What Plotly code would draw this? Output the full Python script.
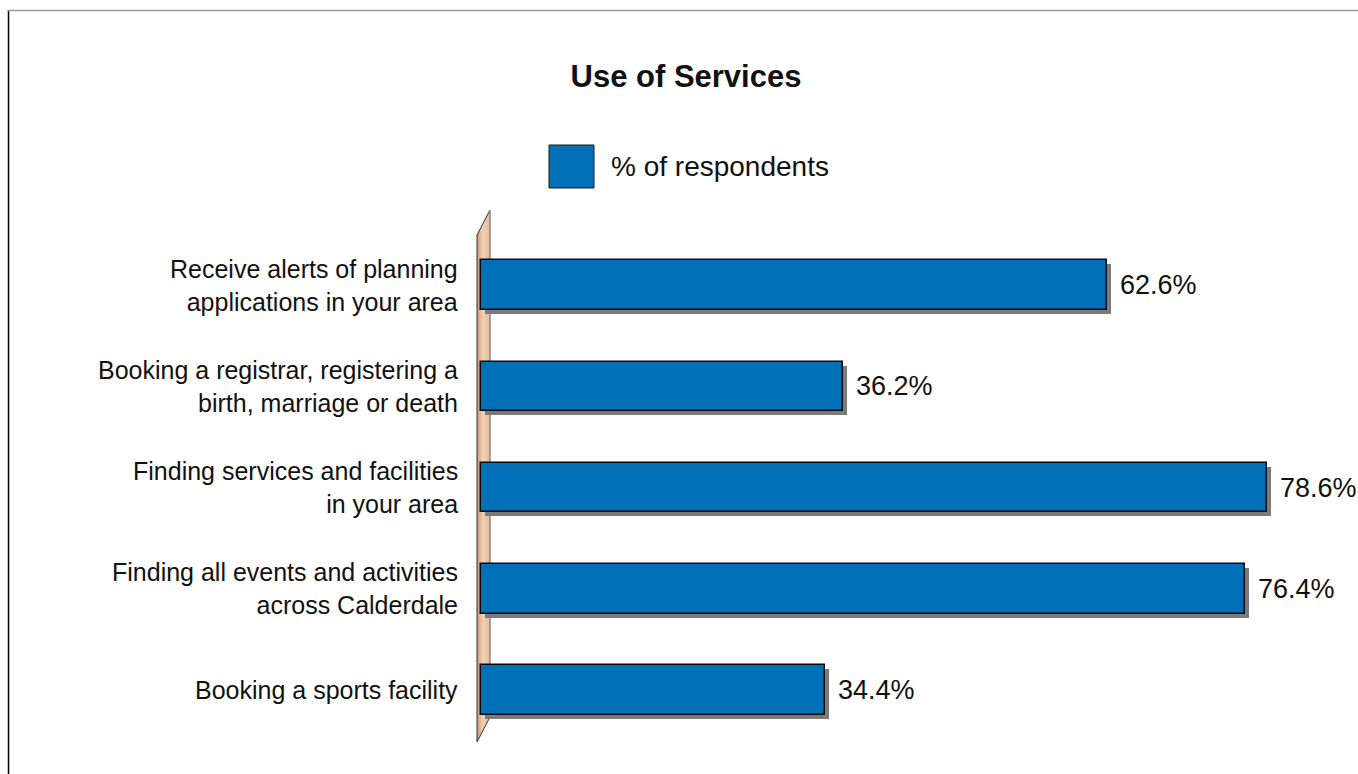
import plotly.graph_objects as go

# Survey data
categories = [
    "Receive alerts of planning<br>applications in your area",
    "Booking a registrar, registering a<br>birth, marriage or death",
    "Finding services and facilities<br>in your area",
    "Finding all events and activities<br>across Calderdale",
    "Booking a sports facility",
]
values = [62.6, 36.2, 78.6, 76.4, 34.4]
value_labels = ["62.6%", "36.2%", "78.6%", "76.4%", "34.4%"]
series_name = "% of respondents"
title_text = "Use of Services"

# Canvas geometry (pixels)
W, H = 1358, 774
ML, MR, MT, MB = 471, 77, 210, 32
PW, PH = W - ML - MR, H - MT - MB
X_RANGE = [-1, 80]
Y_RANGE = [4.515, -0.743]  # reversed: first category on top

FONT = "Liberation Sans, Arial, Helvetica, sans-serif"
TXT = "#111111"
FS = 27
BLUE = "#0070b9"
SHADOW = "#7a7a7a"
BAR_W = 0.49

def px_x(px):
    return (px - ML) / PW

def px_y(py):
    return 1 - (py - MT) / PH

ypos = list(range(len(categories)))
ux = (X_RANGE[1] - X_RANGE[0]) / PW          # data units per pixel, x
uy = (Y_RANGE[0] - Y_RANGE[1]) / PH          # data units per pixel, y

fig = go.Figure()

# 3D wall (base subplot, drawn beneath the bars)
wx0, wx1 = -4 * ux, 9 * ux
wy_top, wy_bot = Y_RANGE[1], Y_RANGE[0]
slant = 25 * uy
fig.add_trace(go.Scatter(
    x=[wx0, wx1, wx1, wx0, wx0],
    y=[wy_top + slant, wy_top, wy_bot - slant, wy_bot, wy_top + slant],
    mode="none", fill="toself",
    fillgradient=dict(type="horizontal",
                      colorscale=[[0, "#cf9670"], [0.45, "#f0d1b7"], [1, "#e2bb9b"]]),
    hoverinfo="skip", showlegend=False,
))
fig.add_trace(go.Scatter(
    x=[wx0, wx0, wx1], y=[wy_bot, wy_top + slant, wy_top],
    mode="lines", line=dict(color="#333333", width=1),
    hoverinfo="skip", showlegend=False,
))
fig.add_trace(go.Scatter(
    x=[wx0, wx1], y=[wy_bot, wy_bot - slant],
    mode="lines", line=dict(color="#333333", width=1),
    hoverinfo="skip", showlegend=False,
))
fig.add_trace(go.Scatter(
    x=[wx1, wx1], y=[wy_top, wy_bot - slant],
    mode="lines", line=dict(color="#8a8a8a", width=1.5),
    hoverinfo="skip", showlegend=False,
))

# Drop shadows of the bars (overlay subplot, above the wall)
fig.add_trace(go.Bar(
    y=ypos, x=values, base=4 * ux, orientation="h",
    width=BAR_W, offset=-BAR_W / 2 + 4 * uy,
    marker=dict(color=SHADOW, line=dict(width=0)),
    xaxis="x2", yaxis="y2",
    hoverinfo="skip", showlegend=False,
))

# Main bars
fig.add_trace(go.Bar(
    y=ypos, x=values, orientation="h", name=series_name,
    width=BAR_W, offset=-BAR_W / 2,
    marker=dict(color=BLUE, line=dict(color="#0a0a0a", width=1.5)),
    xaxis="x2", yaxis="y2",
    cliponaxis=False, showlegend=False,
))

annotations = []
# Value labels just right of each bar
for yi, v, lab in zip(ypos, values, value_labels):
    annotations.append(dict(
        x=v, y=yi, xref="x2", yref="y2", text=lab, showarrow=False,
        xanchor="left", yanchor="middle", xshift=11,
        font=dict(family=FONT, size=FS, color=TXT),
    ))

# Category labels, right-aligned
for yi, cat in zip(ypos, categories):
    annotations.append(dict(
        x=px_x(460), y=yi, xref="paper", yref="y", text=cat,
        showarrow=False, xanchor="right", yanchor="middle", align="right",
        font=dict(family=FONT, size=25, color=TXT),
    ))

# Legend
annotations.append(dict(
    x=px_x(609), y=px_y(166), xref="paper", yref="paper", text=series_name,
    showarrow=False, xanchor="left", yanchor="middle",
    font=dict(family=FONT, size=FS + 1, color=TXT),
))

shapes = [
    dict(type="rect", xref="paper", yref="paper",
         x0=px_x(549), x1=px_x(594), y0=px_y(188), y1=px_y(145),
         fillcolor=BLUE, line=dict(color="#1a1a1a", width=1)),
    # frame around the chart
    dict(type="line", xref="paper", yref="paper",
         x0=px_x(8.5), x1=px_x(8.5), y0=px_y(10), y1=px_y(774),
         line=dict(color="#000000", width=1.5)),
    dict(type="line", xref="paper", yref="paper",
         x0=px_x(8), x1=px_x(1358), y0=px_y(10.5), y1=px_y(10.5),
         line=dict(color="#9a9a9a", width=1.5)),
]

axis_common = dict(visible=False, fixedrange=True)
fig.update_layout(
    width=W, height=H,
    margin=dict(l=ML, r=MR, t=MT, b=MB, pad=0),
    paper_bgcolor="white", plot_bgcolor="white",
    barmode="overlay", bargap=0,
    title=dict(text="<b>" + title_text + "</b>", x=686 / W, y=1 - 76 / H,
               xref="container", yref="container",
               xanchor="center", yanchor="middle",
               font=dict(family=FONT, size=31, color=TXT)),
    xaxis=dict(range=X_RANGE, **axis_common),
    yaxis=dict(range=Y_RANGE, **axis_common),
    xaxis2=dict(range=X_RANGE, overlaying="x", anchor="y2", **axis_common),
    yaxis2=dict(range=Y_RANGE, overlaying="y", anchor="x2", **axis_common),
    annotations=annotations, shapes=shapes,
    showlegend=False,
)

fig.write_html("out.html")
